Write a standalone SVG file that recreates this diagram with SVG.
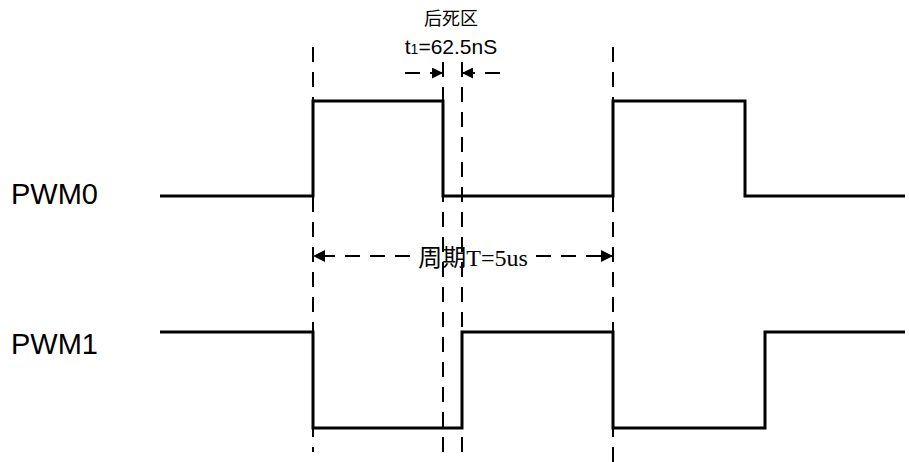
<svg xmlns="http://www.w3.org/2000/svg" width="909" height="462" viewBox="0 0 909 462">
<style>
.wave{fill:none;stroke:#000;stroke-width:3;stroke-linejoin:miter}
.guide{fill:none;stroke:#000;stroke-width:2;stroke-dasharray:15 10}
.dim{fill:none;stroke:#000;stroke-width:2;stroke-dasharray:15 10}
.sig{font-family:"Liberation Sans",Arial,sans-serif;font-size:29px;fill:#000}
.cjk{font-family:"Liberation Serif","Noto Sans CJK SC",serif;fill:#000}
.sans{font-family:"Liberation Sans",Arial,sans-serif;fill:#000}
</style>
<defs>
<marker id="ah" viewBox="0 0 10 10" refX="10" refY="5" markerWidth="15" markerHeight="12" markerUnits="userSpaceOnUse" orient="auto">
<path d="M0,0 L10,5 L0,10 Z" fill="#000"/>
</marker>
<marker id="ahs" viewBox="0 0 10 10" refX="10" refY="5" markerWidth="11" markerHeight="11" markerUnits="userSpaceOnUse" orient="auto">
<path d="M0,0 L10,5 L0,10 Z" fill="#000"/>
</marker>
</defs>
<g id="label-pwm0"><text class="sig" x="11" y="204">PWM0</text></g>
<g id="label-pwm1"><text class="sig" x="11" y="354">PWM1</text></g>
<g id="pwm0"><polyline class="wave" points="160,196 313,196 313,101 443,101 443,196 613,196 613,101 745,101 745,196 905,196"/></g>
<g id="pwm1"><polyline class="wave" points="160,332 313,332 313,428 462,428 462,332 613,332 613,428 765,428 765,332 905,332"/></g>
<g id="connectors">
<line class="guide" x1="313" y1="47" x2="313" y2="452"/>
<line class="guide" x1="443" y1="62" x2="443" y2="457"/>
<line class="guide" x1="462" y1="62" x2="462" y2="457"/>
<line class="guide" x1="613" y1="47" x2="613" y2="462"/>
<line class="dim" x1="405" y1="73" x2="443" y2="73" marker-end="url(#ahs)"/>
<line class="dim" x1="500" y1="73" x2="462" y2="73" marker-end="url(#ahs)"/>
<line class="dim" x1="410" y1="256" x2="313" y2="256" marker-end="url(#ah)"/>
<line class="dim" x1="536" y1="256" x2="613" y2="256" marker-end="url(#ah)"/>
</g>
<g id="label-deadzone">
<text class="cjk" x="451" y="25" font-size="18" text-anchor="middle">后死区</text>
<text class="sans" x="451" y="54" font-size="21" text-anchor="middle">t<tspan font-size="14">1</tspan>=62.5nS</text>
</g>
<g id="label-period"><text class="cjk" x="473" y="266" font-size="24" text-anchor="middle">周期T=5us</text></g>
</svg>
